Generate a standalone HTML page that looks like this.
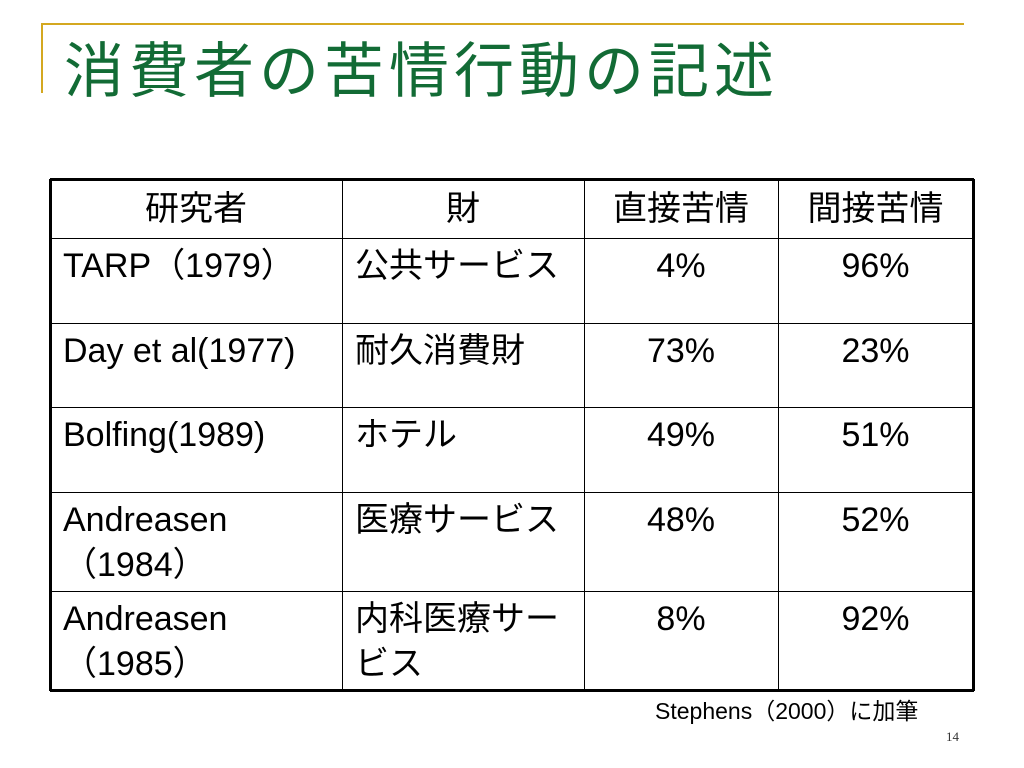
<!DOCTYPE html>
<html><head><meta charset="utf-8"><style>
body{margin:0;width:1024px;height:768px;background:#fff;position:relative;overflow:hidden;font-family:"Liberation Sans","Noto Sans CJK JP",sans-serif;}
.a{position:absolute}
.c{position:absolute;box-sizing:border-box;font-size:34px;line-height:45px;color:#000;padding:6px 0 0 13px}
.ctr{text-align:center;padding-left:0}
</style></head><body>
<div class="a" style="left:42px;top:23px;width:922px;height:2px;background:#d4a820"></div>
<div class="a" style="left:41px;top:23px;width:2px;height:70px;background:#d4a820"></div>
<div class="a" style="left:64px;top:36px;font-size:60px;line-height:72px;color:#126b35;letter-spacing:5px;font-family:'Liberation Sans','Noto Sans CJK JP',sans-serif;white-space:nowrap">消費者の苦情行動の記述</div>
<div id="tbl"></div>
<div class="a" style="left:655px;top:696px;font-size:23px;line-height:30px;white-space:nowrap">Stephens（2000）に加筆</div>
<div class="a" style="left:946px;top:729px;font-size:13px;font-family:'Liberation Serif',serif;color:#333">14</div>
<script>
const cols=[50,342,584,778,973];
const rows=[179,238,323,407,492,591,690];
const header=["研究者","財","直接苦情","間接苦情"];
const researchers=["TARP（1979）","Day et al(1977)","Bolfing(1989)","Andreasen<br>（1984）","Andreasen<br>（1985）"];
const goods=["公共サービス","耐久消費財","ホテル","医療サービス","内科医療サー<br>ビス"];
const direct=["4%","73%","49%","48%","8%"];
const indirect=["96%","23%","51%","52%","92%"];
const t=document.getElementById('tbl');
function line(x,y,w,h,n){const d=document.createElement('div');d.className='a';


d.style.cssText=`left:${x}px;top:${y}px;width:${w}px;height:${h}px;background:#000`;t.appendChild(d);}
rows.forEach((y,i)=>{const o=(i==0||i==rows.length-1);line(cols[0],y-(o?1:0),cols[4]-cols[0]+1,o?3:1,'row-border');});
cols.forEach((x,i)=>{const o=(i==0||i==cols.length-1);line(x-(o?1:0),rows[0],o?3:1,rows[6]-rows[0]+1,'col-border');});
function cell(r,c,html,center,name){const d=document.createElement('div');d.className='c'+(center?' ctr':'');


d.style.left=cols[c]+'px';d.style.top=rows[r]+'px';d.style.width=(cols[c+1]-cols[c])+'px';
d.style.whiteSpace='nowrap';
if(r==0){d.style.paddingTop='8px';}
d.innerHTML=html;t.appendChild(d);}
header.forEach((h,i)=>cell(0,i,h,true,'header-cell'));
for(let i=0;i<researchers.length;i++){
cell(i+1,0,researchers[i],false,'researcher-cell');
cell(i+1,1,goods[i],false,'goods-cell');
cell(i+1,2,direct[i],true,'direct-cell');
cell(i+1,3,indirect[i],true,'indirect-cell');}
</script>
</body></html>
